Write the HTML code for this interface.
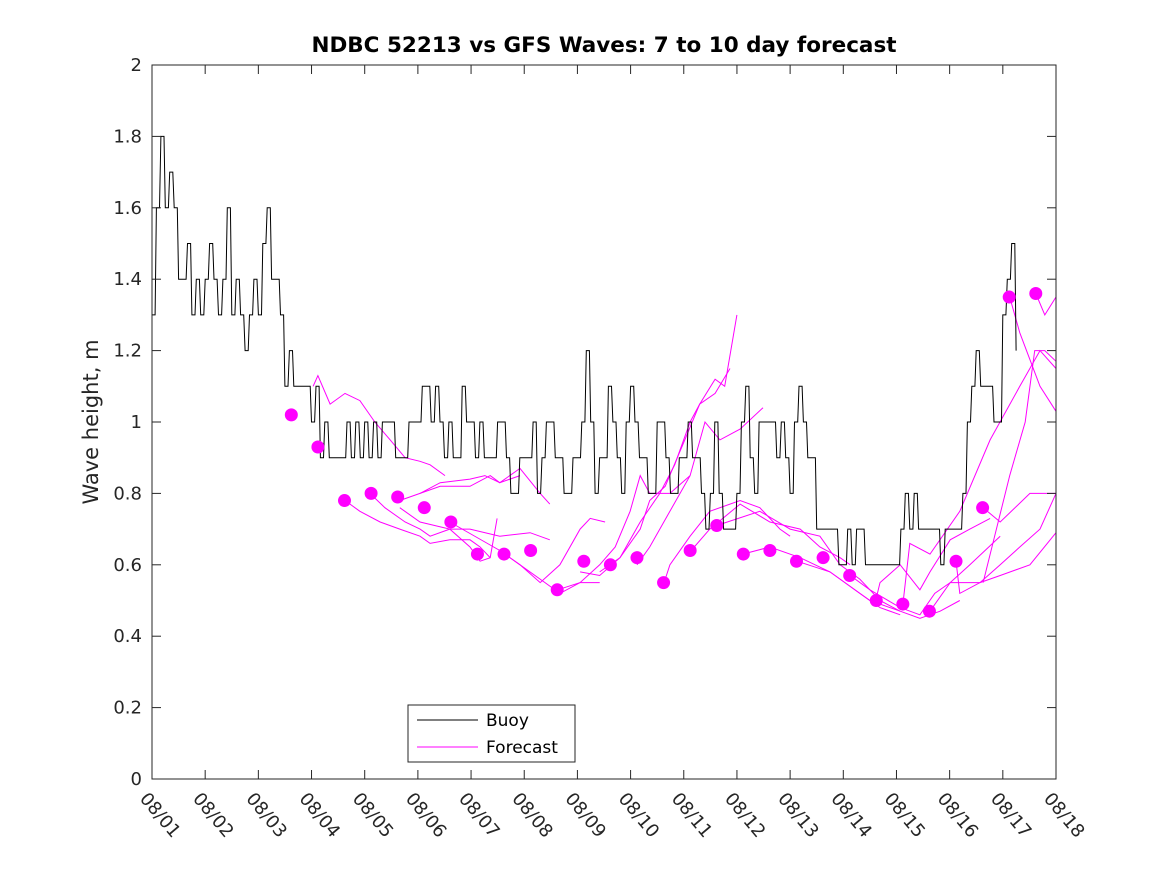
<!DOCTYPE html>
<html><head><meta charset="utf-8"><style>
body{margin:0;background:#fff;}
svg{display:block;font-family:"DejaVu Sans","Liberation Sans",sans-serif;}
</style></head><body>
<svg id="chart" width="1167" height="875" viewBox="0 0 1167 875">
<rect x="0" y="0" width="1167" height="875" fill="#fff"/>
<text x="604" y="52" text-anchor="middle" font-size="21.5" font-weight="bold" fill="#000">NDBC 52213 vs GFS Waves: 7 to 10 day forecast</text>
<text transform="translate(98,422) rotate(-90)" text-anchor="middle" font-size="21" fill="#262626">Wave height, m</text>
<g id="marks"></g>
<g id="axes"></g>
<g>
<rect x="408" y="705" width="167" height="57" fill="#fff" stroke="#262626" stroke-width="1"/>
<line x1="417" y1="720" x2="478" y2="720" stroke="#000" stroke-width="1"/>
<text x="486" y="726" font-size="17" fill="#000">Buoy</text>
<line x1="417" y1="747" x2="478" y2="747" stroke="#ff00ff" stroke-width="1"/>
<text x="486" y="753" font-size="17" fill="#000">Forecast</text>
</g>
</svg>
<script>
const xTickLabels=["08/01","08/02","08/03","08/04","08/05","08/06","08/07","08/08","08/09","08/10","08/11","08/12","08/13","08/14","08/15","08/16","08/17","08/18"];
const yTicks=[0,0.2,0.4,0.6,0.8,1,1.2,1.4,1.6,1.8,2];
const yTickLabels=["0","0.2","0.4","0.6","0.8","1","1.2","1.4","1.6","1.8","2"];
// buoy values at 2-hour steps starting day 0
const buoyValues=[
1.3,1.6,1.8,1.6,1.7,1.6,1.4,1.4,1.5,1.3,1.4,1.3,
1.4,1.5,1.4,1.3,1.4,1.6,1.3,1.4,1.3,1.2,1.3,1.4,
1.3,1.5,1.6,1.4,1.4,1.3,1.1,1.2,1.1,1.1,1.1,1.1,
1.0,1.1,0.9,1.0,0.9,0.9,0.9,0.9,1.0,0.9,1.0,0.9,
1.0,0.9,1.0,0.9,1.0,1.0,1.0,0.9,0.9,0.9,1.0,1.0,
1.0,1.1,1.1,1.0,1.1,1.0,0.9,1.0,0.9,0.9,1.1,1.0,
1.0,0.9,1.0,0.9,0.9,0.9,1.0,1.0,0.9,0.8,0.8,0.9,
0.9,0.9,1.0,0.8,0.9,1.0,1.0,0.9,0.9,0.8,0.8,0.9,
0.9,1.0,1.2,1.0,0.8,0.9,0.9,1.1,1.0,0.9,0.8,1.0,
1.1,1.0,0.9,0.9,0.8,0.8,1.0,1.0,0.9,0.8,0.8,0.9,
0.9,1.0,0.9,0.9,0.8,0.7,0.8,1.0,0.8,0.7,0.7,0.7,
0.8,1.0,1.1,0.9,0.8,1.0,1.0,1.0,1.0,0.9,1.0,0.9,
0.8,1.0,1.1,1.0,0.9,0.9,0.7,0.7,0.7,0.7,0.7,0.6,
0.6,0.7,0.6,0.7,0.7,0.6,0.6,0.6,0.6,0.6,0.6,0.6,
0.6,0.7,0.8,0.7,0.8,0.7,0.7,0.7,0.7,0.7,0.6,0.7,
0.7,0.7,0.7,0.8,1.0,1.1,1.2,1.1,1.1,1.1,1.0,1.0,
1.3,1.4,1.5,1.2];
const buoyStep=1/12;
const dotDays=[2.62,3.12,3.62,4.12,4.62,5.12,5.62,6.12,6.62,7.12,7.62,8.12,8.62,9.12,9.62,10.12,10.62,11.12,11.62,12.12,12.62,13.12,13.62,14.12,14.62,15.12,15.62,16.12,16.62];
const dotValues=[1.02,0.93,0.78,0.80,0.79,0.76,0.72,0.63,0.63,0.64,0.53,0.61,0.60,0.62,0.55,0.64,0.71,0.63,0.64,0.61,0.62,0.57,0.50,0.49,0.47,0.61,0.76,1.35,1.36];
const fcDays=[
[3.03,3.12,3.35,3.63,3.91,4.19,4.48,4.76,5.04,5.23,5.51],
[4.66,5.04,5.42,5.98,6.26,6.54,6.92],
[5.04,5.42,5.98,6.36,6.54,6.92,7.30,7.48],
[3.63,3.91,4.29,4.66,5.04,5.23,5.60,5.98,6.17,6.36],
[4.10,4.38,4.76,5.04,5.23,5.60,5.98,6.17,6.36,6.49],
[4.66,5.04,5.60,5.98,6.54,7.11,7.48],
[5.60,6.54,6.92,7.39,7.67,8.05,8.42],
[6.54,6.92,7.30,7.67,8.05,8.24,8.52],
[7.63,8.05,8.42,8.71,8.99,9.18,9.36,9.74,10.12],
[8.05,8.42,8.80,9.18,9.36,9.65,10.02,10.30,10.59,10.77,11.00],
[8.42,8.80,9.18,9.55,9.83,10.12,10.30,10.59,10.87],
[9.12,9.36,9.74,10.12,10.40,10.68,11.06,11.49],
[9.63,9.74,10.12,10.49,11.06,11.43,11.81,12.00],
[10.14,10.49,11.06,11.62,12.19,12.56,12.94,13.13],
[10.62,11.43,12.00,12.56,12.94,13.31,13.69,14.07],
[11.11,11.62,12.19,12.75,13.31,13.69,14.07],
[12.13,12.75,13.50,14.07,14.44,14.82,15.19],
[13.13,13.50,14.07,14.44,14.72,15.01,15.38,15.95],
[13.61,13.69,14.07,14.44,14.63,15.01,15.38,15.76],
[14.12,14.25,14.63,15.19,15.76,16.32,16.70,17.00],
[14.63,15.01,15.57,15.95,16.32,16.70,17.00],
[15.12,15.19,15.57,15.95,16.51,17.00],
[15.63,15.95,16.51,16.70,17.00],
[16.13,16.32,16.70,17.00],
[16.62,16.79,17.00],
[15.63,16.13,16.42,16.60,16.79,17.00]];
const fcValues=[
[1.10,1.13,1.05,1.08,1.06,1.00,0.95,0.90,0.89,0.88,0.85],
[0.78,0.80,0.83,0.84,0.85,0.83,0.85],
[0.80,0.82,0.82,0.85,0.83,0.87,0.80,0.77],
[0.78,0.75,0.72,0.70,0.68,0.66,0.67,0.67,0.65,0.62],
[0.80,0.76,0.72,0.70,0.68,0.70,0.65,0.61,0.62,0.73],
[0.76,0.72,0.70,0.70,0.68,0.69,0.67],
[0.72,0.64,0.60,0.55,0.52,0.55,0.55],
[0.64,0.60,0.55,0.60,0.70,0.73,0.72],
[0.53,0.55,0.60,0.65,0.75,0.85,0.80,0.80,0.85],
[0.58,0.57,0.62,0.70,0.78,0.82,0.95,1.05,1.12,1.10,1.30],
[0.58,0.62,0.72,0.80,0.88,1.00,1.05,1.08,1.15],
[0.60,0.65,0.75,0.85,1.00,0.95,0.98,1.04],
[0.55,0.60,0.68,0.75,0.78,0.76,0.70,0.68],
[0.64,0.70,0.77,0.72,0.70,0.65,0.62,0.60],
[0.71,0.75,0.70,0.68,0.60,0.56,0.50,0.47],
[0.63,0.65,0.62,0.58,0.52,0.48,0.46],
[0.61,0.58,0.50,0.47,0.45,0.47,0.50],
[0.57,0.53,0.48,0.46,0.52,0.55,0.60,0.68],
[0.50,0.55,0.60,0.53,0.58,0.67,0.70,0.73],
[0.49,0.66,0.63,0.75,0.95,1.10,1.20,1.15],
[0.47,0.55,0.55,0.60,0.65,0.70,0.80],
[0.61,0.52,0.55,0.57,0.60,0.69],
[0.76,0.72,0.80,0.80,0.80],
[1.35,1.25,1.10,1.03],
[1.36,1.30,1.35],
[0.55,0.85,1.00,1.20,1.20,1.17]];

const X0=152,X1=1056,Y0=779,Y1=65,NS="http://www.w3.org/2000/svg";
const xScale=d=>X0+d*(X1-X0)/17;
const yScale=v=>Y0-v*(Y0-Y1)/2;
const marks=document.getElementById('marks');
const axes=document.getElementById('axes');
function mk(tag,attrs,parent){const e=document.createElementNS(NS,tag);for(const k in attrs)e.setAttribute(k,attrs[k]);parent.appendChild(e);return e;}

fcDays.forEach((ds,i)=>{
  const pts=ds.map((d,j)=>xScale(d).toFixed(1)+','+yScale(fcValues[i][j]).toFixed(1)).join(' ');
  const p=mk('polyline',{points:pts,fill:'none',stroke:'#ff00ff','stroke-width':1},marks);
  
  
});
// buoy: short plateaus with quick sloped transitions
const bp=[];
buoyValues.forEach((v,i)=>{
  const y=yScale(v).toFixed(1);
  bp.push(xScale(i*buoyStep).toFixed(1)+','+y);
  if(i<buoyValues.length-1) bp.push(xScale((i+0.7)*buoyStep).toFixed(1)+','+y);
});
const buoy=mk('polyline',{points:bp.join(' '),fill:'none',stroke:'#000','stroke-width':1},marks);


dotDays.forEach((d,i)=>{
  const c=mk('circle',{cx:xScale(d),cy:yScale(dotValues[i]),r:6.5,fill:'#ff00ff'},marks);
  
  
});
const box=mk('rect',{x:X0,y:Y1,width:X1-X0,height:Y0-Y1,fill:'none',stroke:'#262626','stroke-width':1},axes);


yTicks.forEach((v,i)=>{
  const y=yScale(v);
  mk('line',{x1:X0,y1:y,x2:X0+9,y2:y,stroke:'#262626'},axes);
  mk('line',{x1:X1,y1:y,x2:X1-9,y2:y,stroke:'#262626'},axes);
  const t=mk('text',{x:X0-10,y:y+6,'text-anchor':'end','font-size':18,fill:'#262626'},axes);
  t.textContent=yTickLabels[i];
  
  
});
xTickLabels.forEach((lab,i)=>{
  const x=xScale(i);
  mk('line',{x1:x,y1:Y0,x2:x,y2:Y0-9,stroke:'#262626'},axes);
  mk('line',{x1:x,y1:Y1,x2:x,y2:Y1+9,stroke:'#262626'},axes);
  const t=mk('text',{transform:`translate(${x-13},${Y0+20}) rotate(50)`,'font-size':18,fill:'#262626'},axes);
  t.textContent=lab;
  
  
});
</script>
</body></html>
